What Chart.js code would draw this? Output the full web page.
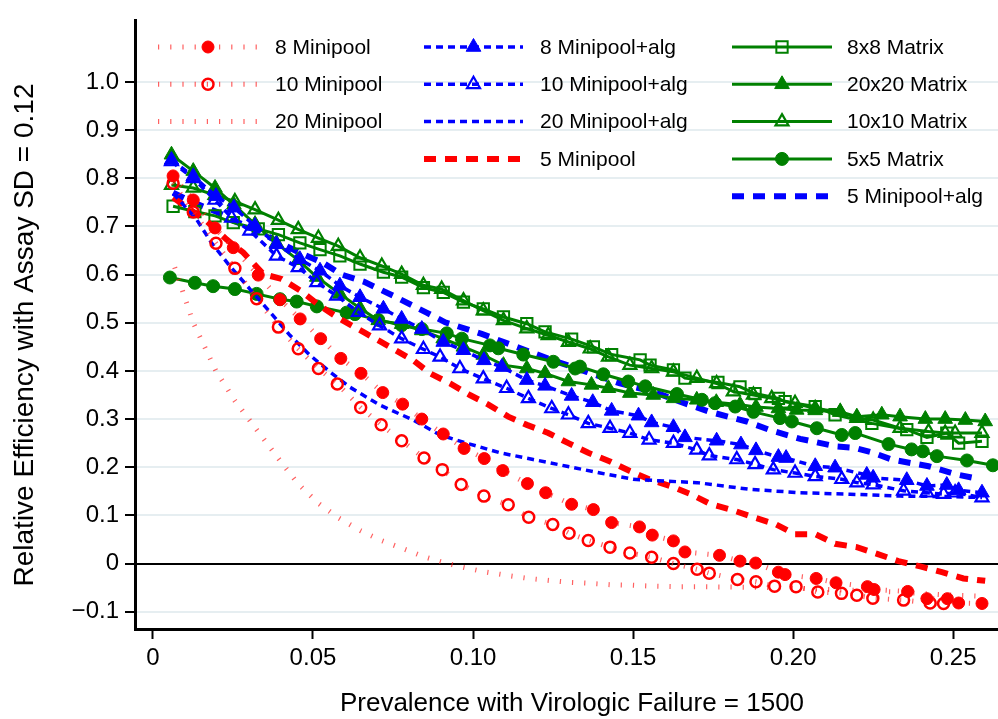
<!DOCTYPE html>
<html>
<head>
<meta charset="utf-8">
<script src="https://cdn.jsdelivr.net/npm/chart.js@4.4.1/dist/chart.umd.min.js"></script>
<style>
  html, body { margin: 0; padding: 0; background: #fff; }
  #wrap { width: 998px; height: 719px; }
</style>
</head>
<body>
<div id="wrap"><canvas id="chart" width="998" height="719"></canvas></div>
<script>
// axis ticks
const xTicks = [0, 0.05, 0.10, 0.15, 0.20, 0.25];
const xTickLabels = ['0', '0.05', '0.10', '0.15', '0.20', '0.25'];
const yTicks = [-0.1, 0, 0.1, 0.2, 0.3, 0.4, 0.5, 0.6, 0.7, 0.8, 0.9, 1.0];
const yTickLabels = ['\u22120.1', '0', '0.1', '0.2', '0.3', '0.4', '0.5', '0.6', '0.7', '0.8', '0.9', '1.0'];

// 8 Minipool
const mp8X = [0.0063, 0.0126, 0.0194, 0.0251, 0.0329, 0.0397, 0.046, 0.0524, 0.0587, 0.065, 0.0718, 0.078, 0.084, 0.0907, 0.0972, 0.1035, 0.1093, 0.117, 0.1227, 0.1308, 0.1376, 0.1433, 0.152, 0.156, 0.1626, 0.1662, 0.177, 0.1834, 0.1883, 0.1954, 0.1975, 0.2072, 0.2134, 0.2232, 0.2253, 0.2358, 0.2418, 0.2482, 0.2517, 0.259];
const mp8Y = [0.805, 0.755, 0.697, 0.656, 0.599, 0.548, 0.508, 0.467, 0.426, 0.395, 0.355, 0.331, 0.300, 0.269, 0.239, 0.218, 0.193, 0.166, 0.147, 0.123, 0.112, 0.085, 0.076, 0.059, 0.047, 0.024, 0.017, 0.005, 0.001, -0.018, -0.023, -0.031, -0.040, -0.048, -0.054, -0.058, -0.073, -0.073, -0.082, -0.083];

// 10 Minipool
const mp10X = [0.0063, 0.0126, 0.0197, 0.0256, 0.0324, 0.0392, 0.0454, 0.0517, 0.0576, 0.0649, 0.0713, 0.0777, 0.0847, 0.0904, 0.0963, 0.1034, 0.111, 0.1174, 0.1249, 0.130, 0.136, 0.1428, 0.149, 0.1558, 0.1626, 0.170, 0.1738, 0.1826, 0.1884, 0.1942, 0.2009, 0.2077, 0.2151, 0.2199, 0.2249, 0.2345, 0.2428, 0.247];
const mp10Y = [0.79, 0.73, 0.665, 0.613, 0.55, 0.491, 0.446, 0.405, 0.373, 0.324, 0.288, 0.255, 0.219, 0.195, 0.164, 0.140, 0.122, 0.096, 0.081, 0.063, 0.048, 0.034, 0.022, 0.013, 0.000, -0.012, -0.020, -0.033, -0.038, -0.047, -0.048, -0.059, -0.062, -0.066, -0.072, -0.076, -0.082, -0.083];

// 20 Minipool
const mp20X = [0.0068, 0.0126, 0.0197, 0.0256, 0.0324, 0.0392, 0.0454, 0.0517, 0.0579, 0.0649, 0.0713, 0.0777, 0.0847, 0.0904, 0.0963, 0.1034, 0.111, 0.1174, 0.1249, 0.130, 0.136, 0.1428, 0.149, 0.1558, 0.1626, 0.170, 0.1826, 0.1942, 0.2077, 0.2199, 0.2345, 0.247, 0.259];
const mp20Y = [0.615, 0.50, 0.40, 0.338, 0.278, 0.218, 0.165, 0.125, 0.095, 0.068, 0.048, 0.032, 0.014, 0.003, -0.007, -0.017, -0.025, -0.031, -0.036, -0.039, -0.041, -0.044, -0.045, -0.047, -0.048, -0.048, -0.049, -0.050, -0.053, -0.056, -0.060, -0.065, -0.068];

// 8 Minipool+alg
const mp8aX = [0.0058, 0.0126, 0.0197, 0.0253, 0.0319, 0.0386, 0.0459, 0.0522, 0.0584, 0.0647, 0.072, 0.0777, 0.084, 0.0907, 0.097, 0.1034, 0.109, 0.1168, 0.1225, 0.1308, 0.1374, 0.1433, 0.1517, 0.1558, 0.1626, 0.1662, 0.1761, 0.1837, 0.1884, 0.1954, 0.1978, 0.2069, 0.2131, 0.223, 0.225, 0.2355, 0.2418, 0.248, 0.2517, 0.259];
const mp8aY = [0.838, 0.804, 0.763, 0.739, 0.701, 0.663, 0.632, 0.608, 0.577, 0.553, 0.529, 0.508, 0.487, 0.460, 0.443, 0.422, 0.408, 0.381, 0.369, 0.348, 0.335, 0.317, 0.307, 0.293, 0.283, 0.262, 0.255, 0.247, 0.235, 0.221, 0.219, 0.202, 0.199, 0.184, 0.178, 0.173, 0.161, 0.163, 0.152, 0.147];

// 10 Minipool+alg
const mp10aX = [0.0058, 0.0126, 0.0194, 0.0246, 0.0303, 0.0386, 0.0454, 0.0512, 0.0574, 0.0642, 0.0708, 0.0777, 0.0845, 0.0897, 0.0959, 0.1032, 0.1105, 0.1173, 0.1246, 0.1298, 0.136, 0.1428, 0.149, 0.155, 0.1626, 0.1699, 0.1738, 0.1824, 0.1881, 0.1938, 0.2006, 0.2069, 0.2152, 0.2199, 0.225, 0.2345, 0.2418, 0.247, 0.2506, 0.259];
const mp10aY = [0.835, 0.80, 0.755, 0.718, 0.691, 0.639, 0.615, 0.584, 0.556, 0.522, 0.494, 0.467, 0.445, 0.429, 0.405, 0.384, 0.364, 0.343, 0.322, 0.309, 0.291, 0.281, 0.271, 0.257, 0.250, 0.236, 0.224, 0.216, 0.206, 0.195, 0.188, 0.181, 0.175, 0.168, 0.164, 0.151, 0.147, 0.144, 0.147, 0.137];

// 20 Minipool+alg
const mp20aX = [0.0063, 0.0137, 0.0183, 0.024, 0.0303, 0.0366, 0.0428, 0.049, 0.0553, 0.0616, 0.0709, 0.0813, 0.0897, 0.098, 0.1084, 0.1188, 0.1293, 0.1397, 0.150, 0.1605, 0.170, 0.1866, 0.2022, 0.2178, 0.2334, 0.249, 0.259];
const mp20aY = [0.769, 0.714, 0.666, 0.618, 0.570, 0.522, 0.474, 0.433, 0.398, 0.366, 0.329, 0.298, 0.267, 0.250, 0.230, 0.216, 0.202, 0.188, 0.175, 0.171, 0.168, 0.154, 0.147, 0.144, 0.140, 0.139, 0.137];

// 5 Minipool
const mp5X = [0.0063, 0.0168, 0.023, 0.0282, 0.0345, 0.0402, 0.046, 0.052, 0.0584, 0.0657, 0.074, 0.0813, 0.0866, 0.0928, 0.099, 0.1048, 0.111, 0.1168, 0.1235, 0.1298, 0.136, 0.1428, 0.149, 0.155, 0.162, 0.168, 0.174, 0.181, 0.1876, 0.1944, 0.2006, 0.2069, 0.2131, 0.2199, 0.2267, 0.2329, 0.2397, 0.2465, 0.2532, 0.26];
const mp5Y = [0.76, 0.711, 0.673, 0.646, 0.601, 0.591, 0.567, 0.536, 0.508, 0.481, 0.450, 0.422, 0.395, 0.374, 0.350, 0.330, 0.305, 0.288, 0.271, 0.250, 0.230, 0.212, 0.192, 0.175, 0.160, 0.144, 0.124, 0.111, 0.096, 0.082, 0.061, 0.061, 0.041, 0.034, 0.019, 0.005, -0.006, -0.018, -0.031, -0.036];

// 8x8 Matrix
const m8X = [0.0063, 0.0131, 0.0194, 0.0251, 0.0329, 0.0392, 0.0459, 0.0522, 0.0584, 0.0647, 0.072, 0.0777, 0.0845, 0.0907, 0.097, 0.1032, 0.1095, 0.1168, 0.1225, 0.1308, 0.1376, 0.1433, 0.1522, 0.1553, 0.1626, 0.1662, 0.1765, 0.1834, 0.1881, 0.1954, 0.1975, 0.2069, 0.2131, 0.2246, 0.2355, 0.2418, 0.248, 0.2517, 0.259];
const m8Y = [0.742, 0.731, 0.722, 0.708, 0.695, 0.683, 0.666, 0.652, 0.639, 0.622, 0.605, 0.595, 0.573, 0.563, 0.543, 0.529, 0.512, 0.498, 0.481, 0.466, 0.450, 0.434, 0.423, 0.412, 0.402, 0.385, 0.376, 0.367, 0.353, 0.343, 0.336, 0.326, 0.309, 0.291, 0.278, 0.262, 0.271, 0.250, 0.254];

// 20x20 Matrix
const m20X = [0.0058, 0.0126, 0.0194, 0.0253, 0.0319, 0.0386, 0.0454, 0.0512, 0.0584, 0.0647, 0.0704, 0.0777, 0.084, 0.0907, 0.097, 0.1032, 0.1095, 0.1168, 0.1225, 0.1298, 0.137, 0.1423, 0.149, 0.1563, 0.1626, 0.1699, 0.176, 0.1834, 0.1884, 0.1954, 0.2011, 0.2069, 0.2147, 0.2199, 0.2277, 0.2334, 0.2413, 0.2475, 0.2538, 0.26];
const m20Y = [0.849, 0.815, 0.78, 0.745, 0.705, 0.665, 0.63, 0.595, 0.56, 0.53, 0.505, 0.497, 0.484, 0.467, 0.45, 0.433, 0.412, 0.405, 0.395, 0.378, 0.371, 0.364, 0.354, 0.35, 0.343, 0.34, 0.335, 0.33, 0.325, 0.322, 0.319, 0.318, 0.315, 0.305, 0.309, 0.305, 0.30, 0.30, 0.298, 0.295];

// 10x10 Matrix
const m10X = [0.0058, 0.0126, 0.0194, 0.0256, 0.0319, 0.0392, 0.0454, 0.0517, 0.0579, 0.0647, 0.0715, 0.0777, 0.0845, 0.0902, 0.097, 0.1032, 0.1095, 0.1168, 0.1235, 0.1298, 0.1366, 0.1423, 0.149, 0.1558, 0.1626, 0.1699, 0.1761, 0.1813, 0.1876, 0.1933, 0.2006, 0.2069, 0.2147, 0.2199, 0.225, 0.2334, 0.2423, 0.2475, 0.2506, 0.259];
const m10Y = [0.786, 0.78, 0.765, 0.752, 0.735, 0.713, 0.694, 0.676, 0.659, 0.635, 0.618, 0.601, 0.578, 0.570, 0.546, 0.525, 0.505, 0.488, 0.474, 0.460, 0.446, 0.429, 0.412, 0.405, 0.398, 0.385, 0.374, 0.357, 0.350, 0.343, 0.333, 0.322, 0.315, 0.302, 0.298, 0.281, 0.274, 0.271, 0.271, 0.271];

// 5x5 Matrix
const m5X = [0.0053, 0.0131, 0.0188, 0.0256, 0.0324, 0.0397, 0.0449, 0.0512, 0.0605, 0.0631, 0.0704, 0.0777, 0.084, 0.0918, 0.0965, 0.1053, 0.1079, 0.1157, 0.1251, 0.1319, 0.1334, 0.1407, 0.1485, 0.1538, 0.1637, 0.1715, 0.1756, 0.1819, 0.1876, 0.1959, 0.1996, 0.2074, 0.2152, 0.2194, 0.2298, 0.237, 0.2405, 0.2449, 0.2543, 0.2624];
const m5Y = [0.594, 0.583, 0.576, 0.570, 0.560, 0.549, 0.544, 0.534, 0.521, 0.518, 0.506, 0.495, 0.487, 0.478, 0.467, 0.453, 0.447, 0.434, 0.419, 0.405, 0.409, 0.393, 0.378, 0.368, 0.352, 0.340, 0.333, 0.326, 0.315, 0.302, 0.295, 0.281, 0.267, 0.271, 0.248, 0.237, 0.233, 0.223, 0.214, 0.204];

// 5 Minipool+alg
const mp5aX = [0.0063, 0.0126, 0.02, 0.026, 0.033, 0.04, 0.046, 0.053, 0.059, 0.066, 0.0694, 0.0751, 0.0855, 0.0913, 0.1027, 0.1136, 0.125, 0.1355, 0.1459, 0.1563, 0.1647, 0.174, 0.1855, 0.1933, 0.2022, 0.2136, 0.2194, 0.225, 0.2308, 0.2423, 0.2511, 0.2584];
const mp5aY = [0.77, 0.75, 0.73, 0.71, 0.69, 0.665, 0.645, 0.625, 0.60, 0.585, 0.574, 0.556, 0.521, 0.501, 0.477, 0.450, 0.422, 0.398, 0.374, 0.357, 0.336, 0.315, 0.295, 0.276, 0.259, 0.243, 0.240, 0.230, 0.216, 0.202, 0.185, 0.175];

function pts(xs, ys) {
  return xs.map(function (x, i) { return { x: x, y: ys[i] }; });
}

const RED = '#ff0000';
const BLUE = '#0000ff';
const GREEN = '#008000';
const NONE = 'rgba(0,0,0,0)';
const redTicks = 'rgba(255,30,30,0.7)';
const FONT = "'Liberation Sans', Arial, Helvetica, sans-serif";

// dotted red (Stata tiny tick pattern), short blue dashes, solid green
const dotRed = { borderColor: redTicks, borderWidth: 5, borderDash: [1.2, 11] };
const dashBlue = { borderColor: BLUE, borderWidth: 3.5, borderDash: [7, 5] };
const solidGreen = { borderColor: GREEN, borderWidth: 3, borderDash: [] };

function ds(label, data, line, marker) {
  var d = Object.assign({ label: label, data: data, fill: false, tension: 0, pointRadius: 0 }, line);
  if (marker) {
    d.pointStyle = marker.style;
    d.pointRadius = marker.r;
    d.pointBorderWidth = marker.bw;
    d.pointBorderColor = marker.color;
    d.pointBackgroundColor = marker.filled ? marker.color : NONE;
  }
  return d;
}

const datasets = [
  ds('8 Minipool', pts(mp8X, mp8Y), dotRed, { style: 'circle', r: 6, bw: 1, color: RED, filled: true }),
  ds('10 Minipool', pts(mp10X, mp10Y), dotRed, { style: 'circle', r: 5.5, bw: 2.5, color: RED, filled: false }),
  ds('20 Minipool', pts(mp20X, mp20Y), dotRed, null),
  ds('8 Minipool+alg', pts(mp8aX, mp8aY), dashBlue, { style: 'triangle', r: 8.5, bw: 1, color: BLUE, filled: true }),
  ds('10 Minipool+alg', pts(mp10aX, mp10aY), dashBlue, { style: 'triangle', r: 7.5, bw: 2.2, color: BLUE, filled: false }),
  ds('20 Minipool+alg', pts(mp20aX, mp20aY), dashBlue, null),
  ds('5 Minipool', pts(mp5X, mp5Y), { borderColor: RED, borderWidth: 6, borderDash: [12, 9] }, null),
  ds('8x8 Matrix', pts(m8X, m8Y), solidGreen, { style: 'rect', r: 8, bw: 2, color: GREEN, filled: false }),
  ds('20x20 Matrix', pts(m20X, m20Y), solidGreen, { style: 'triangle', r: 8.5, bw: 1, color: GREEN, filled: true }),
  ds('10x10 Matrix', pts(m10X, m10Y), solidGreen, { style: 'triangle', r: 7.5, bw: 2.2, color: GREEN, filled: false }),
  ds('5x5 Matrix', pts(m5X, m5Y), solidGreen, { style: 'circle', r: 6.5, bw: 1, color: GREEN, filled: true }),
  ds('5 Minipool+alg', pts(mp5aX, mp5aY), { borderColor: BLUE, borderWidth: 6, borderDash: [12, 9] }, null)
];

// marker drawing for the legend (same geometry as Chart.js)
function drawMarker(ctx, d, x, y) {
  var r = d.pointRadius;
  if (!r) return;
  ctx.save();
  ctx.setLineDash([]);
  ctx.lineWidth = d.pointBorderWidth;
  ctx.strokeStyle = d.pointBorderColor;
  ctx.fillStyle = d.pointBackgroundColor;
  ctx.beginPath();
  if (d.pointStyle === 'circle') {
    ctx.arc(x, y, r, 0, Math.PI * 2);
  } else if (d.pointStyle === 'triangle') {
    ctx.moveTo(x, y - r);
    ctx.lineTo(x + Math.sin(Math.PI / 3) * r, y + r / 2);
    ctx.lineTo(x - Math.sin(Math.PI / 3) * r, y + r / 2);
    ctx.closePath();
  } else if (d.pointStyle === 'rect') {
    var s = r * Math.SQRT1_2;
    ctx.rect(x - s, y - s, 2 * s, 2 * s);
  }
  ctx.fill();
  ctx.stroke();
  ctx.restore();
}

const overlay = {
  id: 'overlay',
  afterDraw: function (chart) {
    var ctx = chart.ctx;
    var sets = chart.data.datasets;
    // legend: three columns inside the plot
    var cols = [
      { x1: 158, x2: 258, tx: 275, items: [0, 1, 2] },
      { x1: 424, x2: 523, tx: 540, items: [3, 4, 5, 6] },
      { x1: 732, x2: 832, tx: 847, items: [7, 8, 9, 10, 11] }
    ];
    cols.forEach(function (c) {
      c.items.forEach(function (idx, row) {
        var d = sets[idx];
        var y = 47 + row * 37.3;
        ctx.save();
        ctx.strokeStyle = d.borderColor;
        ctx.lineWidth = d.borderWidth;
        ctx.setLineDash(d.borderDash || []);
        ctx.lineCap = 'butt';
        ctx.beginPath();
        ctx.moveTo(c.x1, y);
        ctx.lineTo(c.x2, y);
        ctx.stroke();
        ctx.restore();
        drawMarker(ctx, d, (c.x1 + c.x2) / 2, y);
        ctx.save();
        ctx.fillStyle = '#000';
        ctx.font = '21px ' + FONT;
        ctx.textAlign = 'left';
        ctx.textBaseline = 'middle';
        ctx.fillText(d.label, c.tx, y + 1);
        ctx.restore();
      });
    });
    // axis titles
    ctx.save();
    ctx.fillStyle = '#000';
    ctx.font = '26px ' + FONT;
    ctx.textAlign = 'center';
    ctx.textBaseline = 'middle';
    ctx.fillText('Prevalence with Virologic Failure = 1500', 572, 704);
    ctx.translate(25, 335);
    ctx.rotate(-Math.PI / 2);
    ctx.font = '28px ' + FONT;
    ctx.fillText('Relative Efficiency with Assay SD = 0.12', 0, 0);
    ctx.restore();
  }
};

Chart.defaults.font.family = FONT;
Chart.defaults.color = '#000';

new Chart(document.getElementById('chart').getContext('2d'), {
  type: 'line',
  data: { datasets: datasets },
  options: {
    responsive: false,
    animation: false,
    events: [],
    layout: { autoPadding: false, padding: { top: 14, right: 0, left: 0, bottom: 0 } },
    plugins: { legend: { display: false }, tooltip: { enabled: false } },
    scales: {
      x: {
        type: 'linear',
        min: -0.0056,
        max: 0.264,
        afterFit: function (scale) { scale.height = 90; },
        afterBuildTicks: function (scale) { scale.ticks = xTicks.map(function (v) { return { value: v }; }); },
        ticks: {
          autoSkip: false,
          maxRotation: 0,
          padding: 5,
          font: { size: 24 },
          color: '#000',
          callback: function (value) {
            var i = xTicks.findIndex(function (t) { return Math.abs(t - value) < 1e-9; });
            return i < 0 ? '' : xTickLabels[i];
          }
        },
        grid: { drawOnChartArea: false, drawTicks: true, tickLength: 10, tickColor: '#000', tickWidth: 2 },
        border: { display: true, color: '#000', width: 3 }
      },
      y: {
        type: 'linear',
        min: -0.136,
        max: 1.128,
        afterFit: function (scale) { scale.width = 135; },
        afterBuildTicks: function (scale) { scale.ticks = yTicks.map(function (v) { return { value: v }; }); },
        ticks: {
          autoSkip: false,
          padding: 6,
          font: { size: 24 },
          color: '#000',
          callback: function (value) {
            var i = yTicks.findIndex(function (t) { return Math.abs(t - value) < 1e-9; });
            return i < 0 ? '' : yTickLabels[i];
          }
        },
        grid: {
          drawTicks: true,
          tickLength: 10,
          tickColor: '#000',
          tickWidth: 2,
          lineWidth: 2,
          color: function (c) { return (c.tick && Math.abs(c.tick.value) < 1e-9) ? '#000' : '#e6eef1'; }
        },
        border: { display: true, color: '#000', width: 3 }
      }
    }
  },
  plugins: [overlay]
});
</script>
</body>
</html>
